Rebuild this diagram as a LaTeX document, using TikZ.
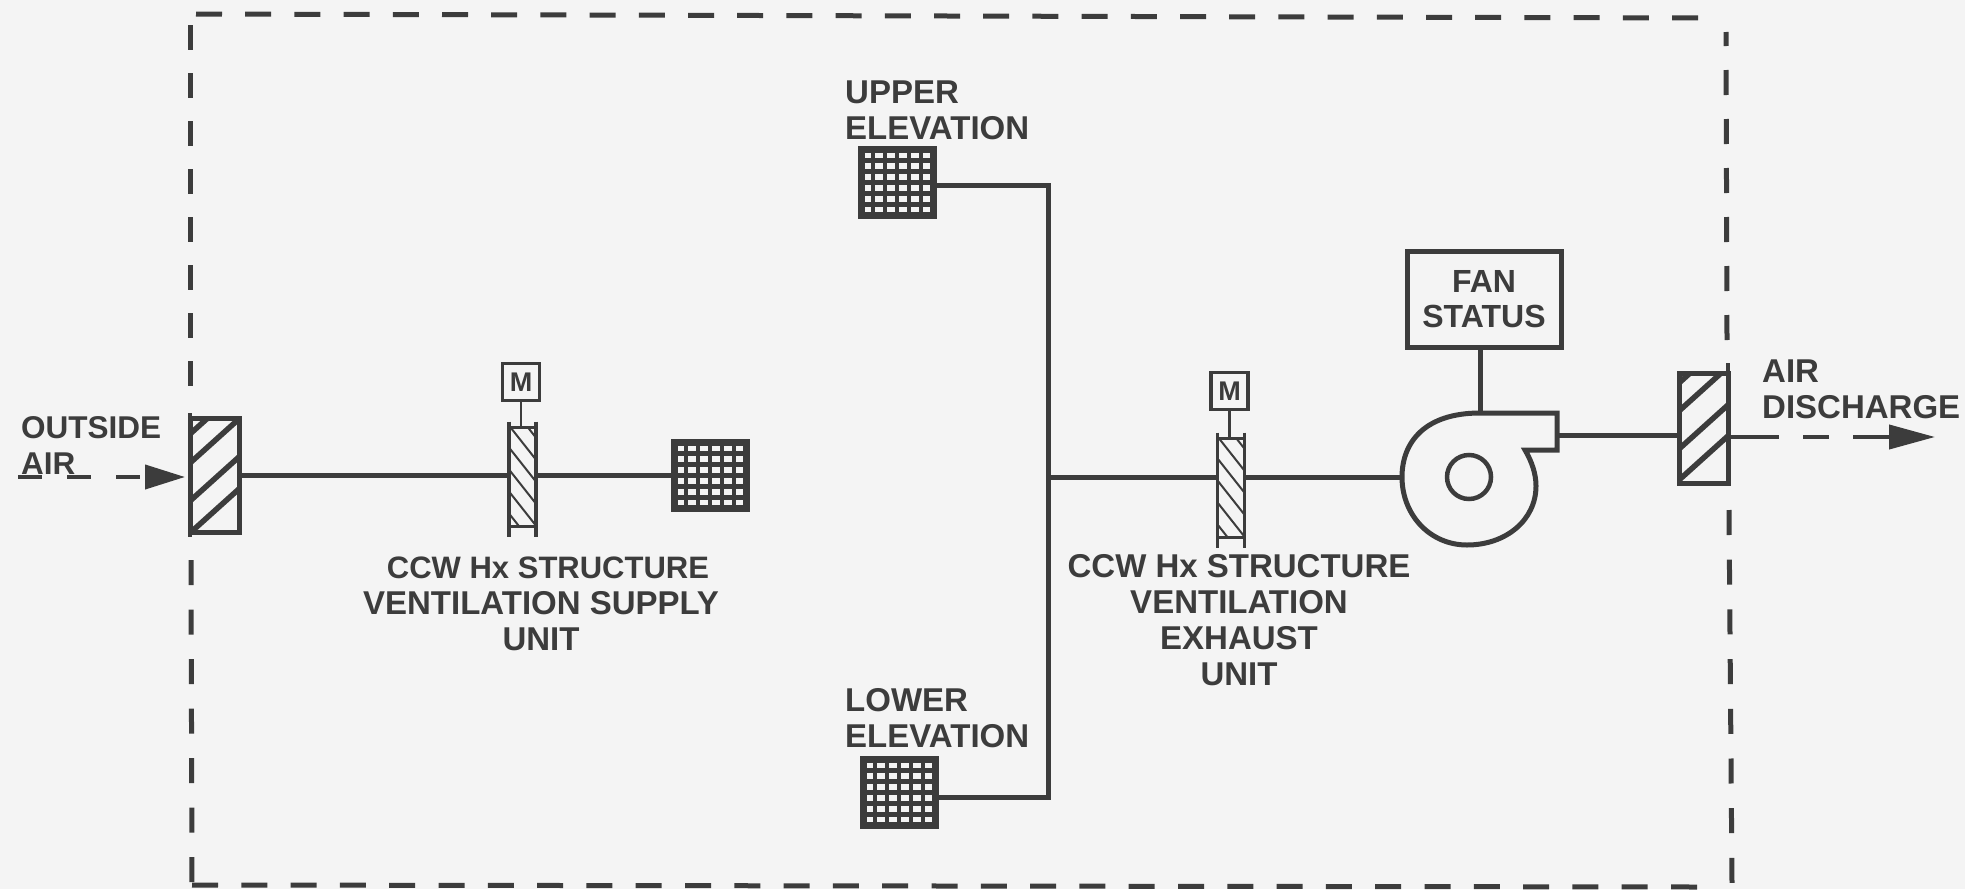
\documentclass[tikz,border=0pt]{standalone}
\usepackage{fontspec}
\setmainfont{Liberation Sans}
\usetikzlibrary{arrows.meta,calc}
\definecolor{ink}{HTML}{3C3C3C}
\definecolor{paper}{HTML}{F4F4F4}
\newcommand{\sz}[1]{\fontsize{#1}{36}\selectfont}
\tikzset{
  lbl/.style={text=ink,font=\sz{33}\bfseries,align=center,inner sep=0pt},
  lblleft/.style={lbl,align=left,anchor=west},
  pipe/.style={draw=ink,line width=5pt},
  border/.style={draw=ink,line width=5pt,dash pattern=on 25pt off #1},
  border/.default=24.5pt,
  flowin/.style={draw=ink,line width=4pt,dash pattern=on 24pt off 25pt,-{Triangle[length=40pt,width=24pt,fill=ink]}},
  flowout/.style={draw=ink,line width=4pt,dash pattern=on 51pt off 24pt on 26pt off 24pt on 100pt,-{Triangle[length=46pt,width=24pt,fill=ink]}},
  gridbox/.style={draw=ink,line width=7pt,fill=paper,minimum width=72pt,minimum height=66pt,inner sep=0pt,outer sep=0pt,
    path picture={
      \foreach \k in {1,...,5}{
        \draw[ink,line width=4.2pt] ($(path picture bounding box.north west)!\k/6!(path picture bounding box.north east)$) -- ($(path picture bounding box.south west)!\k/6!(path picture bounding box.south east)$);
        \draw[ink,line width=4.2pt] ($(path picture bounding box.north west)!\k/6!(path picture bounding box.south west)$) -- ($(path picture bounding box.north east)!\k/6!(path picture bounding box.south east)$);
      }}},
  louver/.style={draw=ink,line width=5pt,fill=paper,minimum width=49pt,inner sep=0pt,outer sep=0pt,
    path picture={
      \foreach \k in {#1}{
        \draw[ink,line width=5.5pt] ([yshift=-\k pt]path picture bounding box.north west) -- ++(60,-54);
      }}},
  motorised/.style={draw=ink,line width=3.5pt,fill=paper,minimum width=27pt,minimum height=99pt,inner sep=0pt,outer sep=0pt,
    path picture={
      \foreach \k in {-24,-2,20,42,64,86}{
        \draw[ink,line width=2pt] ([yshift=-\k pt]path picture bounding box.north west) -- ++(30,38);
      }}},
  motorbox/.style={draw=ink,line width=3.5pt,fill=paper,minimum width=37pt,minimum height=37pt,inner sep=0pt,outer sep=0pt,text=ink,font=\fontsize{27}{27}\selectfont\bfseries},
  statusbox/.style={draw=ink,line width=5pt,minimum width=154pt,minimum height=96pt,inner sep=0pt,outer sep=0pt,text=ink,align=center,font=\fontsize{32}{35}\selectfont\bfseries},
  impeller/.style={circle,draw=ink,line width=4.5pt,minimum size=44pt,inner sep=0pt,outer sep=0pt},
}
\begin{document}
\begin{tikzpicture}[x=1pt,y=-1pt]
\useasboundingbox[fill=paper] (0,0) rectangle (1965,889);

% enclosure
\coordinate (tl) at (196,14);
\coordinate (tr) at (1699,18);
\coordinate (bl) at (192,885);
\coordinate (br) at (1698,887);
\coordinate (lt) at (190,25);
\coordinate (lu) at (190,388);
\coordinate (ld) at (191,560);
\coordinate (le) at (192,885);
\coordinate (rt) at (1726,32);
\coordinate (ru) at (1727,340);
\coordinate (rd) at (1729,510);
\coordinate (re) at (1732,883);
\draw[border=23.2pt,dash pattern=on 26pt off 23.2pt] (tl) -- (tr);
\draw[border=23pt] (lt) -- (lu);
\draw[border] (ld) -- (le);
\draw[border=23.3pt,dash pattern=on 26pt off 23.3pt] (bl) -- (br);
\draw[border=24pt,dash phase=11pt] (rt) -- (ru);
\draw[border=24.7pt] (rd) -- (re);

% supply side
\node[louver={16,45,83,115},minimum height=114pt] (dampA) at (214.5,475) {};
\node[motorised] (dampB) at (522.5,477) {};
\node[motorbox] (motorA) at (521,382) {M};
\node[gridbox] (gridA) at (710,475.5) {};
\draw[ink,line width=3.5pt] ([yshift=6pt]dampB.north west) -- ([yshift=-10pt]dampB.south west);
\draw[ink,line width=3.5pt] ([yshift=6pt]dampB.north east) -- ([yshift=-10pt]dampB.south east);
\draw[pipe] (dampA.east) -- (dampA.east -| dampB.west);
\draw[pipe] (dampA.east -| dampB.east) -- (dampA.east -| gridA.west);
\draw[draw=ink,line width=2.5pt] (motorA.south) -- (motorA.south |- dampB.north);
\draw[draw=ink,line width=3.5pt] (dampA.north west) ++(0,-5) -- ++(0,124);
\coordinate (airin) at (18,477);
\draw[flowin,shorten >=5pt] (airin) -- (airin -| dampA.west);

% exhaust side
\node[gridbox] (gridU) at (897,182.5) {};
\node[gridbox] (gridL) at (899,792.5) {};
\coordinate (trunkU) at (1048,185);
\coordinate (trunkL) at (1048,797);
\coordinate (trunkM) at (1048,477);
\draw[pipe] (gridU.east |- trunkU) -- (trunkU) -- (trunkL) -- (gridL.east |- trunkL);
\node[motorised] (dampC) at (1231,488) {};
\node[motorbox] (motorC) at (1229.5,391) {M};
\draw[ink,line width=3.5pt] ([yshift=6pt]dampC.north west) -- ([yshift=-10pt]dampC.south west);
\draw[ink,line width=3.5pt] ([yshift=6pt]dampC.north east) -- ([yshift=-10pt]dampC.south east);
\draw[draw=ink,line width=2.5pt] (motorC.south) -- (motorC.south |- dampC.north);
\draw[pipe] (trunkM) -- (trunkM -| dampC.west);

% fan
\coordinate (fanin) at (1402,477);
\coordinate (fanout) at (1557,435);
\coordinate (fantop) at (1480,413);
\draw[draw=ink,line width=5pt,line join=miter]
  (fantop) -- (1557,413) -- (1557,450) -- (1525,450)
  .. controls (1532,462) and (1536,474) .. (1536,486)
  .. controls (1536,520) and (1506,545) .. (1467,545)
  .. controls (1430,545) and (1402,515) .. (1402,477)
  .. controls (1402,442) and (1425,413) .. (fantop) -- cycle;
\node[impeller] (imp) at (1469,477) {};
\node[statusbox] (status) at (1484,299) {FAN\\STATUS};
\draw[pipe] (status.south -| fantop) -- (fantop);
\draw[pipe] (trunkM -| dampC.east) -- (fanin);
\node[louver={10,38,76,107},minimum height=110pt] (dampD) at (1703.5,428) {};
\draw[draw=ink,line width=3.5pt] (dampD.north east) ++(0,-10) -- ++(0,121);
\draw[pipe] (fanout) -- (fanout -| dampD.west);
\coordinate (airout) at (1935,437);
\draw[flowout] (dampD.east |- airout) -- (airout);

% labels
\node[lblleft,font=\sz{31.5}\bfseries] (tOutside) at (21,445) {OUTSIDE\\AIR};
\node[lbl] (tSupply) at (541,604) {\hspace*{14pt}{\sz{31}CCW Hx STRUCTURE}\\VENTILATION SUPPLY\\UNIT};
\node[lblleft] (tUpper) at (845,110) {UPPER\\ELEVATION};
\node[lblleft] (tLower) at (845,718) {LOWER\\ELEVATION};
\node[lbl] (tExhaust) at (1239,620) {CCW Hx STRUCTURE\\VENTILATION\\EXHAUST\\UNIT};
\node[lblleft] (tDischarge) at (1762,389) {AIR\\DISCHARGE};
\end{tikzpicture}
\end{document}
